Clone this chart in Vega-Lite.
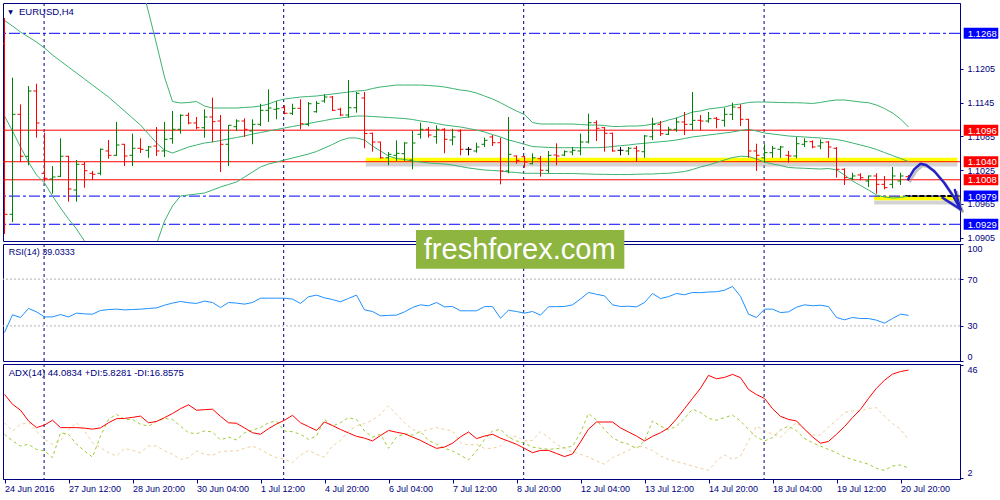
{
"$schema": "https://vega.github.io/schema/vega-lite/v6.json",
"padding": {"left": 2, "top": 2, "right": 0, "bottom": 0},
"background": "#ffffff",
"bounds": "flush",
"spacing": 3,
"config": {
 "view": {"stroke": "#000080", "strokeWidth": 1},
 "axis": {"labelFont": "Liberation Sans", "labelFontSize": 9, "labelColor": "#000080", "domainColor": "#000080", "tickColor": "#000080", "tickSize": 3, "grid": false, "labelPadding": 4}
},
"datasets": {
 "bars": [
{"i":0,"o":1.1250,"h":1.12951,"l":1.09118,"c":1.09467,"bu":1.15383,"bm":1.12907,"bl":1.11212,"rsi":24.3,"adx":34.6,"pdi":19.0,"mdi":23.5},
{"i":1,"o":1.09467,"h":1.11892,"l":1.0933,"c":1.11242,"bu":1.15348,"bm":1.12809,"bl":1.10946,"rsi":39.5,"adx":30.7,"pdi":16.4,"mdi":20.3},
{"i":2,"o":1.11242,"h":1.11419,"l":1.10395,"c":1.10497,"bu":1.15294,"bm":1.12703,"bl":1.10662,"rsi":37.2,"adx":28.4,"pdi":14.4,"mdi":22.9},
{"i":3,"o":1.10497,"h":1.11744,"l":1.10337,"c":1.11656,"bu":1.15241,"bm":1.12614,"bl":1.10395,"rsi":44.9,"adx":24.2,"pdi":15.1,"mdi":23.5},
{"i":4,"o":1.11656,"h":1.11785,"l":1.10827,"c":1.11087,"bu":1.1517,"bm":1.12525,"bl":1.10165,"rsi":42,"adx":21.6,"pdi":13.1,"mdi":20.3},
{"i":5,"o":1.10195,"h":1.10916,"l":1.10046,"c":1.10106,"bu":1.15099,"bm":1.12419,"bl":1.10023,"rsi":37.7,"adx":22.6,"pdi":12.5,"mdi":17},
{"i":6,"o":1.10094,"h":1.10324,"l":1.09833,"c":1.10129,"bu":1.15028,"bm":1.12295,"bl":1.09792,"rsi":37.7,"adx":24.5,"pdi":9.9,"mdi":15.1},
{"i":7,"o":1.10141,"h":1.10816,"l":1.10129,"c":1.10497,"bu":1.14957,"bm":1.12188,"bl":1.09579,"rsi":39.7,"adx":21.6,"pdi":19.6,"mdi":16.4},
{"i":8,"o":1.10497,"h":1.10505,"l":1.09691,"c":1.09917,"bu":1.14886,"bm":1.12082,"bl":1.09384,"rsi":37.7,"adx":21.6,"pdi":19,"mdi":20.9},
{"i":9,"o":1.09899,"h":1.10431,"l":1.09691,"c":1.10354,"bu":1.14815,"bm":1.11975,"bl":1.09206,"rsi":40.9,"adx":21.6,"pdi":15.1,"mdi":23.5},
{"i":10,"o":1.10354,"h":1.10395,"l":1.09939,"c":1.10241,"bu":1.14744,"bm":1.11869,"bl":1.08993,"rsi":40.3,"adx":21.4,"pdi":12.5,"mdi":20.3},
{"i":11,"o":1.10195,"h":1.10236,"l":1.10076,"c":1.10177,"bu":1.14673,"bm":1.11762,"bl":1.0878,"rsi":40,"adx":21,"pdi":10.1,"mdi":15.7},
{"i":12,"o":1.10195,"h":1.10635,"l":1.1016,"c":1.10621,"bu":1.14584,"bm":1.11656,"bl":1.08603,"rsi":43.2,"adx":21.5,"pdi":18.3,"mdi":13.8},
{"i":13,"o":1.10591,"h":1.10786,"l":1.10454,"c":1.10514,"bu":1.1446,"bm":1.11549,"bl":1.0846,"rsi":44,"adx":23.5,"pdi":24.8,"mdi":11.8},
{"i":14,"o":1.10514,"h":1.11106,"l":1.10502,"c":1.10697,"bu":1.14318,"bm":1.11425,"bl":1.08354,"rsi":44.3,"adx":25.1,"pdi":26.8,"mdi":10.5},
{"i":15,"o":1.1071,"h":1.10717,"l":1.10324,"c":1.10502,"bu":1.1414,"bm":1.11301,"bl":1.08319,"rsi":43.7,"adx":25.2,"pdi":24.8,"mdi":13.5},
{"i":16,"o":1.10514,"h":1.10899,"l":1.10324,"c":1.10639,"bu":1.13928,"bm":1.11176,"bl":1.08354,"rsi":44,"adx":25.6,"pdi":24.8,"mdi":12.7},
{"i":17,"o":1.10639,"h":1.10816,"l":1.10555,"c":1.10621,"bu":1.13608,"bm":1.11052,"bl":1.08496,"rsi":44.3,"adx":26.1,"pdi":22.9,"mdi":11.8},
{"i":18,"o":1.10603,"h":1.10679,"l":1.1047,"c":1.10662,"bu":1.13058,"bm":1.10892,"bl":1.08709,"rsi":44.9,"adx":23.5,"pdi":22.2,"mdi":14.4},
{"i":19,"o":1.10679,"h":1.11017,"l":1.10502,"c":1.10591,"bu":1.1249,"bm":1.10733,"bl":1.0894,"rsi":45.4,"adx":24,"pdi":24,"mdi":14.4},
{"i":20,"o":1.10591,"h":1.11106,"l":1.10484,"c":1.10798,"bu":1.11904,"bm":1.10608,"bl":1.09348,"rsi":47.7,"adx":25.5,"pdi":25.2,"mdi":12.5},
{"i":21,"o":1.10809,"h":1.11301,"l":1.1072,"c":1.10976,"bu":1.11469,"bm":1.10555,"bl":1.09614,"rsi":49.5,"adx":27.1,"pdi":24.8,"mdi":11.2},
{"i":22,"o":1.10976,"h":1.11242,"l":1.10899,"c":1.11224,"bu":1.11443,"bm":1.10608,"bl":1.09792,"rsi":50.9,"adx":29,"pdi":22.2,"mdi":9.2},
{"i":23,"o":1.11224,"h":1.11271,"l":1.11064,"c":1.11088,"bu":1.11452,"bm":1.10662,"bl":1.0981,"rsi":49.8,"adx":30.5,"pdi":19.6,"mdi":9.9},
{"i":24,"o":1.11088,"h":1.11194,"l":1.10976,"c":1.11004,"bu":1.11469,"bm":1.10697,"bl":1.09827,"rsi":49.2,"adx":28.4,"pdi":19.2,"mdi":12.5},
{"i":25,"o":1.11004,"h":1.11331,"l":1.10827,"c":1.11194,"bu":1.1139,"bm":1.10733,"bl":1.09845,"rsi":51.2,"adx":28.6,"pdi":20.3,"mdi":11.2},
{"i":26,"o":1.11194,"h":1.11537,"l":1.1075,"c":1.11111,"bu":1.11354,"bm":1.1075,"bl":1.09898,"rsi":50,"adx":28.8,"pdi":19.9,"mdi":10.8},
{"i":27,"o":1.11123,"h":1.1123,"l":1.10218,"c":1.1071,"bu":1.11354,"bm":1.10777,"bl":1.09952,"rsi":45.7,"adx":26,"pdi":16.8,"mdi":12.2},
{"i":28,"o":1.1071,"h":1.11052,"l":1.10324,"c":1.11047,"bu":1.11354,"bm":1.10804,"bl":1.09996,"rsi":50,"adx":23.5,"pdi":17.9,"mdi":12.5},
{"i":29,"o":1.11022,"h":1.11153,"l":1.10946,"c":1.11123,"bu":1.11354,"bm":1.1083,"bl":1.10041,"rsi":49.5,"adx":23.3,"pdi":16.8,"mdi":12.5},
{"i":30,"o":1.11123,"h":1.11171,"l":1.1084,"c":1.10976,"bu":1.11363,"bm":1.10857,"bl":1.10129,"rsi":48.6,"adx":21.5,"pdi":19.6,"mdi":13.5},
{"i":31,"o":1.10946,"h":1.11153,"l":1.1071,"c":1.11064,"bu":1.11372,"bm":1.10892,"bl":1.10218,"rsi":50,"adx":19.6,"pdi":20.7,"mdi":14.4},
{"i":32,"o":1.11064,"h":1.1143,"l":1.11034,"c":1.11313,"bu":1.1139,"bm":1.10919,"bl":1.10307,"rsi":53.7,"adx":19,"pdi":21.6,"mdi":13.1},
{"i":33,"o":1.11313,"h":1.11686,"l":1.11106,"c":1.11354,"bu":1.11425,"bm":1.10946,"bl":1.1036,"rsi":53.7,"adx":21.2,"pdi":23.5,"mdi":11.2},
{"i":34,"o":1.11331,"h":1.11478,"l":1.11153,"c":1.11341,"bu":1.11478,"bm":1.10972,"bl":1.10395,"rsi":53.7,"adx":23,"pdi":24.2,"mdi":9.9},
{"i":35,"o":1.11359,"h":1.11402,"l":1.11242,"c":1.1126,"bu":1.11514,"bm":1.10999,"bl":1.10431,"rsi":53.7,"adx":24.5,"pdi":20.3,"mdi":9.2},
{"i":36,"o":1.1126,"h":1.1143,"l":1.1123,"c":1.11348,"bu":1.11531,"bm":1.11026,"bl":1.10466,"rsi":52.9,"adx":26.4,"pdi":20,"mdi":7.9},
{"i":37,"o":1.11348,"h":1.11508,"l":1.10976,"c":1.11075,"bu":1.11549,"bm":1.11052,"bl":1.10502,"rsi":49.2,"adx":23.5,"pdi":19,"mdi":10.9},
{"i":38,"o":1.11064,"h":1.1146,"l":1.11029,"c":1.1143,"bu":1.11558,"bm":1.11079,"bl":1.10537,"rsi":54.9,"adx":22,"pdi":17,"mdi":12.7},
{"i":39,"o":1.11288,"h":1.11478,"l":1.11271,"c":1.11437,"bu":1.11567,"bm":1.11106,"bl":1.10582,"rsi":56.3,"adx":20.5,"pdi":18.3,"mdi":11.2},
{"i":40,"o":1.11478,"h":1.11597,"l":1.11448,"c":1.11549,"bu":1.11585,"bm":1.11132,"bl":1.10644,"rsi":54,"adx":23.8,"pdi":24.8,"mdi":10.1},
{"i":41,"o":1.11549,"h":1.11567,"l":1.11301,"c":1.11313,"bu":1.11602,"bm":1.11159,"bl":1.10706,"rsi":52.5,"adx":22.4,"pdi":22.2,"mdi":14.4},
{"i":42,"o":1.11331,"h":1.11359,"l":1.11212,"c":1.1123,"bu":1.1162,"bm":1.11176,"bl":1.10777,"rsi":50.6,"adx":20.9,"pdi":23.5,"mdi":16.6},
{"i":43,"o":1.1123,"h":1.11851,"l":1.11182,"c":1.11359,"bu":1.11638,"bm":1.11194,"bl":1.10822,"rsi":53.5,"adx":19.5,"pdi":25.5,"mdi":20.3},
{"i":44,"o":1.11359,"h":1.11638,"l":1.11271,"c":1.11615,"bu":1.11656,"bm":1.11212,"bl":1.10822,"rsi":56.3,"adx":18.2,"pdi":24.8,"mdi":22.2},
{"i":45,"o":1.11531,"h":1.11638,"l":1.10639,"c":1.10901,"bu":1.11664,"bm":1.11212,"bl":1.10786,"rsi":43.7,"adx":17.5,"pdi":20.3,"mdi":23.2},
{"i":46,"o":1.10905,"h":1.10916,"l":1.10578,"c":1.1075,"bu":1.117,"bm":1.11203,"bl":1.10679,"rsi":42.3,"adx":16.4,"pdi":17.9,"mdi":24.5},
{"i":47,"o":1.1075,"h":1.10757,"l":1.10454,"c":1.1047,"bu":1.11727,"bm":1.11194,"bl":1.10591,"rsi":38.6,"adx":18.5,"pdi":19,"mdi":26.8},
{"i":48,"o":1.1047,"h":1.10573,"l":1.10337,"c":1.10532,"bu":1.11744,"bm":1.11185,"bl":1.10502,"rsi":39,"adx":20.5,"pdi":13.5,"mdi":30.1},
{"i":49,"o":1.10514,"h":1.1078,"l":1.10413,"c":1.1055,"bu":1.11762,"bm":1.11176,"bl":1.10457,"rsi":39.2,"adx":19.8,"pdi":17.9,"mdi":26.8},
{"i":50,"o":1.10543,"h":1.10745,"l":1.10413,"c":1.10733,"bu":1.11762,"bm":1.11167,"bl":1.1044,"rsi":42,"adx":19.2,"pdi":19.2,"mdi":23.5},
{"i":51,"o":1.10431,"h":1.10946,"l":1.10266,"c":1.10733,"bu":1.11762,"bm":1.1115,"bl":1.10413,"rsi":45.7,"adx":17.9,"pdi":18.7,"mdi":20.9},
{"i":52,"o":1.10887,"h":1.11093,"l":1.10809,"c":1.10976,"bu":1.11762,"bm":1.11123,"bl":1.10395,"rsi":48,"adx":16.6,"pdi":20,"mdi":19.9},
{"i":53,"o":1.10976,"h":1.11017,"l":1.10827,"c":1.10875,"bu":1.11753,"bm":1.11106,"bl":1.10378,"rsi":47.2,"adx":15,"pdi":16.6,"mdi":20.9},
{"i":54,"o":1.10844,"h":1.11047,"l":1.1072,"c":1.10976,"bu":1.11744,"bm":1.11079,"bl":1.10369,"rsi":50,"adx":13.5,"pdi":15.1,"mdi":21.6},
{"i":55,"o":1.10976,"h":1.10994,"l":1.1055,"c":1.10798,"bu":1.11727,"bm":1.11052,"bl":1.1036,"rsi":46.3,"adx":14,"pdi":13.5,"mdi":20.9},
{"i":56,"o":1.10786,"h":1.10986,"l":1.10692,"c":1.1084,"bu":1.117,"bm":1.11034,"bl":1.10342,"rsi":46.6,"adx":15.5,"pdi":12.5,"mdi":20.3},
{"i":57,"o":1.10946,"h":1.10976,"l":1.10514,"c":1.10621,"bu":1.11673,"bm":1.11017,"bl":1.10316,"rsi":42.9,"adx":18,"pdi":10.8,"mdi":15.7},
{"i":58,"o":1.10621,"h":1.10662,"l":1.10514,"c":1.10621,"bu":1.11656,"bm":1.1099,"bl":1.10289,"rsi":42.9,"adx":19.9,"pdi":9,"mdi":14.8},
{"i":59,"o":1.10591,"h":1.10738,"l":1.10561,"c":1.10662,"bu":1.1162,"bm":1.10963,"bl":1.10271,"rsi":42.9,"adx":17.3,"pdi":12.5,"mdi":15.1},
{"i":60,"o":1.1071,"h":1.10827,"l":1.10662,"c":1.1078,"bu":1.11567,"bm":1.10928,"bl":1.10253,"rsi":46.5,"adx":18.3,"pdi":17,"mdi":13.5},
{"i":61,"o":1.1084,"h":1.10875,"l":1.10679,"c":1.10738,"bu":1.11514,"bm":1.10883,"bl":1.10245,"rsi":46.5,"adx":19,"pdi":20.3,"mdi":13.5},
{"i":62,"o":1.10738,"h":1.10827,"l":1.09999,"c":1.10236,"bu":1.11448,"bm":1.1084,"bl":1.10236,"rsi":36.6,"adx":17.5,"pdi":20.9,"mdi":14.4},
{"i":63,"o":1.10236,"h":1.11194,"l":1.10195,"c":1.10532,"bu":1.11372,"bm":1.10786,"bl":1.10218,"rsi":43.4,"adx":16.3,"pdi":17.9,"mdi":17.7},
{"i":64,"o":1.10502,"h":1.10514,"l":1.10365,"c":1.10425,"bu":1.11301,"bm":1.1075,"bl":1.10209,"rsi":42.3,"adx":15.1,"pdi":16.4,"mdi":18.3},
{"i":65,"o":1.10489,"h":1.10502,"l":1.10294,"c":1.10395,"bu":1.11238,"bm":1.1071,"bl":1.10195,"rsi":40.9,"adx":13.5,"pdi":15.5,"mdi":16.4},
{"i":66,"o":1.10365,"h":1.1055,"l":1.10354,"c":1.1047,"bu":1.11096,"bm":1.1067,"bl":1.10195,"rsi":42.3,"adx":11.8,"pdi":14,"mdi":16.6},
{"i":67,"o":1.10454,"h":1.10502,"l":1.10134,"c":1.10248,"bu":1.1107,"bm":1.10662,"bl":1.10195,"rsi":39.2,"adx":12.7,"pdi":13.5,"mdi":20},
{"i":68,"o":1.10248,"h":1.10591,"l":1.10195,"c":1.10514,"bu":1.1107,"bm":1.10653,"bl":1.10191,"rsi":46.3,"adx":12.7,"pdi":13.1,"mdi":17.7},
{"i":69,"o":1.10519,"h":1.10727,"l":1.10337,"c":1.10502,"bu":1.1107,"bm":1.10649,"bl":1.10191,"rsi":46.5,"adx":11.5,"pdi":13.4,"mdi":15.1},
{"i":70,"o":1.10519,"h":1.10603,"l":1.10502,"c":1.10578,"bu":1.1107,"bm":1.10649,"bl":1.10191,"rsi":46.6,"adx":10.3,"pdi":13.8,"mdi":13.5},
{"i":71,"o":1.10573,"h":1.10662,"l":1.10514,"c":1.10603,"bu":1.1107,"bm":1.10649,"bl":1.10191,"rsi":48,"adx":11.3,"pdi":14.3,"mdi":12.2},
{"i":72,"o":1.10591,"h":1.10899,"l":1.10514,"c":1.1075,"bu":1.11061,"bm":1.10649,"bl":1.10186,"rsi":53,"adx":16,"pdi":19.6,"mdi":11.2},
{"i":73,"o":1.1075,"h":1.11253,"l":1.10727,"c":1.11093,"bu":1.11052,"bm":1.10649,"bl":1.10182,"rsi":58.6,"adx":21,"pdi":27.1,"mdi":10.1},
{"i":74,"o":1.11093,"h":1.11135,"l":1.10768,"c":1.10994,"bu":1.11052,"bm":1.10649,"bl":1.10177,"rsi":57,"adx":23.8,"pdi":24.5,"mdi":8.6},
{"i":75,"o":1.11004,"h":1.11017,"l":1.10578,"c":1.10905,"bu":1.11043,"bm":1.10656,"bl":1.10177,"rsi":55.7,"adx":23.8,"pdi":20.9,"mdi":7.3},
{"i":76,"o":1.10905,"h":1.10916,"l":1.10578,"c":1.10591,"bu":1.11026,"bm":1.1067,"bl":1.10173,"rsi":48,"adx":23.8,"pdi":17.7,"mdi":9.9},
{"i":77,"o":1.10603,"h":1.10662,"l":1.10514,"c":1.10603,"bu":1.11026,"bm":1.10685,"bl":1.10173,"rsi":46.6,"adx":21.5,"pdi":16,"mdi":11.2},
{"i":78,"o":1.10591,"h":1.10662,"l":1.10519,"c":1.10639,"bu":1.11034,"bm":1.10697,"bl":1.10173,"rsi":46.8,"adx":19.9,"pdi":15.1,"mdi":12.7},
{"i":79,"o":1.10639,"h":1.10679,"l":1.10395,"c":1.10591,"bu":1.11034,"bm":1.10715,"bl":1.10177,"rsi":46.3,"adx":18.3,"pdi":13.4,"mdi":14.3},
{"i":80,"o":1.10578,"h":1.10875,"l":1.1047,"c":1.10857,"bu":1.11043,"bm":1.10727,"bl":1.10182,"rsi":50,"adx":16.4,"pdi":16.4,"mdi":14},
{"i":81,"o":1.10844,"h":1.11182,"l":1.10786,"c":1.11064,"bu":1.1107,"bm":1.10742,"bl":1.10182,"rsi":57.7,"adx":18.2,"pdi":24.2,"mdi":12.7},
{"i":82,"o":1.11064,"h":1.11123,"l":1.10857,"c":1.10898,"bu":1.11096,"bm":1.10756,"bl":1.10191,"rsi":53.4,"adx":19.6,"pdi":22.2,"mdi":10.5},
{"i":83,"o":1.10887,"h":1.11022,"l":1.10875,"c":1.10976,"bu":1.11141,"bm":1.10768,"bl":1.10195,"rsi":55,"adx":21.5,"pdi":20.7,"mdi":9.2},
{"i":84,"o":1.10976,"h":1.11182,"l":1.10933,"c":1.11106,"bu":1.11176,"bm":1.10786,"bl":1.10209,"rsi":57.7,"adx":25,"pdi":22.2,"mdi":8.3},
{"i":85,"o":1.11106,"h":1.11283,"l":1.10875,"c":1.11064,"bu":1.1123,"bm":1.10813,"bl":1.10227,"rsi":56.6,"adx":29,"pdi":25.2,"mdi":7.5},
{"i":86,"o":1.11064,"h":1.11638,"l":1.10958,"c":1.11135,"bu":1.11283,"bm":1.1084,"bl":1.10262,"rsi":58.6,"adx":33,"pdi":28.8,"mdi":6.6},
{"i":87,"o":1.11135,"h":1.1123,"l":1.10958,"c":1.11123,"bu":1.11301,"bm":1.10857,"bl":1.10307,"rsi":58.4,"adx":37,"pdi":27.5,"mdi":5.7},
{"i":88,"o":1.11123,"h":1.11283,"l":1.11093,"c":1.11164,"bu":1.11336,"bm":1.10875,"bl":1.10342,"rsi":59,"adx":42,"pdi":25.2,"mdi":4.9},
{"i":89,"o":1.11171,"h":1.11194,"l":1.10994,"c":1.11153,"bu":1.11354,"bm":1.10892,"bl":1.10387,"rsi":59.2,"adx":40.7,"pdi":24.5,"mdi":8.6},
{"i":90,"o":1.11135,"h":1.11359,"l":1.11022,"c":1.11242,"bu":1.11372,"bm":1.1091,"bl":1.10431,"rsi":60.5,"adx":41.2,"pdi":25.5,"mdi":10.9},
{"i":91,"o":1.11242,"h":1.11448,"l":1.11141,"c":1.11372,"bu":1.11407,"bm":1.10928,"bl":1.10475,"rsi":63.7,"adx":42.4,"pdi":26.5,"mdi":9.2},
{"i":92,"o":1.11359,"h":1.11419,"l":1.11034,"c":1.11153,"bu":1.11425,"bm":1.10954,"bl":1.10497,"rsi":55.2,"adx":41.1,"pdi":24.2,"mdi":10.5},
{"i":93,"o":1.11153,"h":1.1116,"l":1.1047,"c":1.10591,"bu":1.11452,"bm":1.10976,"bl":1.10493,"rsi":40,"adx":36.5,"pdi":20.9,"mdi":16.4},
{"i":94,"o":1.10591,"h":1.1072,"l":1.10236,"c":1.10514,"bu":1.11461,"bm":1.10946,"bl":1.10448,"rsi":37.2,"adx":34.5,"pdi":17.9,"mdi":22.2},
{"i":95,"o":1.1047,"h":1.1071,"l":1.10383,"c":1.10561,"bu":1.11461,"bm":1.1091,"bl":1.10395,"rsi":44.3,"adx":33,"pdi":16.4,"mdi":20.5},
{"i":96,"o":1.10561,"h":1.10679,"l":1.1047,"c":1.10639,"bu":1.11455,"bm":1.10892,"bl":1.1036,"rsi":44.3,"adx":29,"pdi":17.7,"mdi":19},
{"i":97,"o":1.10621,"h":1.10679,"l":1.1047,"c":1.10662,"bu":1.11452,"bm":1.10875,"bl":1.10334,"rsi":41.4,"adx":26,"pdi":20.7,"mdi":17.9},
{"i":98,"o":1.10514,"h":1.10591,"l":1.10383,"c":1.10502,"bu":1.11448,"bm":1.10857,"bl":1.10298,"rsi":42,"adx":24.8,"pdi":22.2,"mdi":20.9},
{"i":99,"o":1.10502,"h":1.1084,"l":1.10461,"c":1.1072,"bu":1.11448,"bm":1.10848,"bl":1.10289,"rsi":46,"adx":24.2,"pdi":20.3,"mdi":23.5},
{"i":100,"o":1.1071,"h":1.10816,"l":1.10662,"c":1.10756,"bu":1.11443,"bm":1.1084,"bl":1.10284,"rsi":48,"adx":21,"pdi":17.4,"mdi":20.9},
{"i":101,"o":1.10756,"h":1.1078,"l":1.10639,"c":1.10662,"bu":1.11434,"bm":1.1083,"bl":1.10277,"rsi":47.2,"adx":18,"pdi":15.7,"mdi":18.7},
{"i":102,"o":1.10679,"h":1.10798,"l":1.10621,"c":1.10738,"bu":1.11452,"bm":1.10822,"bl":1.10271,"rsi":47.7,"adx":15.5,"pdi":14.4,"mdi":18.7},
{"i":103,"o":1.1075,"h":1.10768,"l":1.1047,"c":1.10662,"bu":1.11478,"bm":1.10809,"bl":1.1028,"rsi":46.5,"adx":16.2,"pdi":13.1,"mdi":21.9},
{"i":104,"o":1.10639,"h":1.10662,"l":1.10117,"c":1.10266,"bu":1.11496,"bm":1.10795,"bl":1.10255,"rsi":37.2,"adx":19,"pdi":11.8,"mdi":24.5},
{"i":105,"o":1.10266,"h":1.10283,"l":1.09987,"c":1.10117,"bu":1.11496,"bm":1.10768,"bl":1.10165,"rsi":35.2,"adx":22,"pdi":10.1,"mdi":27.5},
{"i":106,"o":1.10106,"h":1.10205,"l":1.10076,"c":1.10147,"bu":1.11478,"bm":1.10733,"bl":1.10058,"rsi":37.2,"adx":25.5,"pdi":9.2,"mdi":28.1},
{"i":107,"o":1.10165,"h":1.10195,"l":1.1007,"c":1.10117,"bu":1.11461,"bm":1.10697,"bl":1.09979,"rsi":36.3,"adx":28.7,"pdi":8.2,"mdi":28.1},
{"i":108,"o":1.10058,"h":1.10156,"l":1.09952,"c":1.10147,"bu":1.11448,"bm":1.10662,"bl":1.09898,"rsi":36.3,"adx":33,"pdi":7.3,"mdi":29.1},
{"i":109,"o":1.10147,"h":1.10195,"l":1.09833,"c":1.09999,"bu":1.11407,"bm":1.10617,"bl":1.0981,"rsi":34.9,"adx":37,"pdi":5.7,"mdi":29.4},
{"i":110,"o":1.09999,"h":1.10147,"l":1.09911,"c":1.0994,"bu":1.11345,"bm":1.10564,"bl":1.09774,"rsi":32.3,"adx":40.1,"pdi":4.9,"mdi":26.1},
{"i":111,"o":1.09999,"h":1.10307,"l":1.09929,"c":1.10147,"bu":1.11265,"bm":1.1051,"bl":1.09757,"rsi":36.3,"adx":42.5,"pdi":6.6,"mdi":23.2},
{"i":112,"o":1.10058,"h":1.10205,"l":1.09987,"c":1.10147,"bu":1.11159,"bm":1.10457,"bl":1.09765,"rsi":40,"adx":43.5,"pdi":7,"mdi":20.9},
{"i":113,"o":1.10134,"h":1.10165,"l":1.10058,"c":1.10085,"bu":1.11017,"bm":1.10404,"bl":1.09792,"rsi":39.0333,"adx":44.0834,"pdi":5.8281,"mdi":16.8575}
 ],
 "seps": [{"i":4.95},{"i":34.9},{"i":64.9},{"i":94.95}],
 "levels": [{"p":1.1268,"k":"blue"},{"p":1.0979,"k":"blue"},{"p":1.0929,"k":"blue"},{"p":1.1096,"k":"red"},{"p":1.1040,"k":"red"},{"p":1.1008,"k":"red"}],
 "bands": [{"from":45.16,"to":119.1,"p":1.10431},{"from":108.7,"to":119.43,"p":1.09756}],
 "dash": [{"from":112.6,"to":119.43,"p":1.0979}],
 "arrow": [
  {"seg":"curve","k":0,"i":112.95,"p":1.10088},{"seg":"curve","k":1,"i":113.7,"p":1.10265},{"seg":"curve","k":2,"i":114.5,"p":1.10365},{"seg":"curve","k":3,"i":115.2,"p":1.10342},{"seg":"curve","k":4,"i":116.2,"p":1.10236},{"seg":"curve","k":5,"i":117.45,"p":1.10028},{"seg":"curve","k":6,"i":118.7,"p":1.09762},{"seg":"curve","k":7,"i":119.5,"p":1.09556},
  {"seg":"arm1","k":0,"i":118.8,"p":1.09898},{"seg":"arm1","k":1,"i":119.5,"p":1.09556},
  {"seg":"arm2","k":0,"i":117.25,"p":1.09762},{"seg":"arm2","k":1,"i":119.5,"p":1.09556}
 ],
 "rsiLevels": [{"v":70},{"v":30}],
 "one": [{"n":1}]
},
"vconcat": [
 {
  "width": 957, "height": 238,
  "resolve": {"axis": {"x": "independent", "y": "independent"}},
  "layer": [
   {"data": {"name": "seps"}, "mark": {"type": "rule", "color": "#000080", "strokeDash": [3,3], "strokeWidth": 1},
    "encoding": {"x": {"field": "i", "type": "quantitative", "scale": {"domain": [-0.1875, 119.4375], "nice": false, "zero": false}, "axis": null}}},
   {"data": {"name": "bands"}, "mark": {"type": "rule", "color": "#a8a8a8", "opacity": 0.5, "strokeWidth": 4, "yOffset": 4.5, "strokeCap": "butt"},
    "encoding": {"x": {"field": "from", "type": "quantitative", "axis": null}, "x2": {"field": "to"},
     "y": {"field": "p", "type": "quantitative", "scale": {"domain": [1.08993, 1.13218], "nice": false, "zero": false},
      "axis": {"orient": "right", "title": null, "values": [1.0905, 1.0965, 1.1025, 1.1085, 1.1145, 1.1205], "format": ".4f", "labelFontSize": 9}}}},
   {"data": {"name": "bands"}, "mark": {"type": "rule", "color": "#ffff00", "strokeWidth": 4.6, "strokeCap": "butt"},
    "encoding": {"x": {"field": "from", "type": "quantitative", "axis": null}, "x2": {"field": "to"}, "y": {"field": "p", "type": "quantitative", "axis": null}}},
   {"data": {"name": "levels"}, "transform": [{"filter": "datum.k == 'blue'"}], "mark": {"type": "rule", "color": "#0000ff", "strokeWidth": 1, "strokeDash": [11,3,3,3]},
    "encoding": {"y": {"field": "p", "type": "quantitative", "axis": null}}},
   {"data": {"name": "levels"}, "transform": [{"filter": "datum.k == 'red'"}], "mark": {"type": "rule", "color": "#ff0000", "strokeWidth": 1},
    "encoding": {"y": {"field": "p", "type": "quantitative", "axis": null}}},
   {"data": {"name": "dash"}, "mark": {"type": "rule", "color": "#000000", "strokeWidth": 2, "strokeDash": [5,2]},
    "encoding": {"x": {"field": "from", "type": "quantitative", "axis": null}, "x2": {"field": "to"}, "y": {"field": "p", "type": "quantitative", "axis": null}}},
   {"data": {"name": "bars"}, "mark": {"type": "line", "color": "#3cb371", "strokeWidth": 1, "clip": true},
    "encoding": {"x": {"field": "i", "type": "quantitative", "axis": null}, "y": {"field": "bu", "type": "quantitative", "axis": null}}},
   {"data": {"name": "bars"}, "mark": {"type": "line", "color": "#3cb371", "strokeWidth": 1, "clip": true},
    "encoding": {"x": {"field": "i", "type": "quantitative", "axis": null}, "y": {"field": "bm", "type": "quantitative", "axis": null}}},
   {"data": {"name": "bars"}, "mark": {"type": "line", "color": "#3cb371", "strokeWidth": 1, "clip": true},
    "encoding": {"x": {"field": "i", "type": "quantitative", "axis": null}, "y": {"field": "bl", "type": "quantitative", "axis": null}}},
   {"data": {"name": "bars"}, "mark": {"type": "rule", "strokeWidth": 1, "clip": true},
    "encoding": {"x": {"field": "i", "type": "quantitative", "axis": null}, "y": {"field": "h", "type": "quantitative", "axis": null}, "y2": {"field": "l"},
     "color": {"condition": [{"test": "datum.c > datum.o", "value": "#008000"}, {"test": "datum.c < datum.o", "value": "#ff0000"}], "value": "#000000"}}},
   {"data": {"name": "bars"}, "mark": {"type": "rule", "strokeWidth": 1, "clip": true, "xOffset": -3, "x2Offset": 0},
    "encoding": {"x": {"field": "i", "type": "quantitative", "axis": null}, "x2": {"field": "i"}, "y": {"field": "o", "type": "quantitative", "axis": null},
     "color": {"condition": [{"test": "datum.c > datum.o", "value": "#008000"}, {"test": "datum.c < datum.o", "value": "#ff0000"}], "value": "#000000"}}},
   {"data": {"name": "bars"}, "mark": {"type": "rule", "strokeWidth": 1, "clip": true, "xOffset": 0, "x2Offset": 3},
    "encoding": {"x": {"field": "i", "type": "quantitative", "axis": null}, "x2": {"field": "i"}, "y": {"field": "c", "type": "quantitative", "axis": null},
     "color": {"condition": [{"test": "datum.c > datum.o", "value": "#008000"}, {"test": "datum.c < datum.o", "value": "#ff0000"}], "value": "#000000"}}},
   {"data": {"name": "arrow"}, "mark": {"type": "line", "color": "#9a9a9a", "opacity": 0.6, "strokeWidth": 2.5, "xOffset": 2, "yOffset": 2, "strokeCap": "round"},
    "encoding": {"x": {"field": "i", "type": "quantitative", "axis": null}, "y": {"field": "p", "type": "quantitative", "axis": null}, "detail": {"field": "seg"}, "order": {"field": "k"}}},
   {"data": {"name": "arrow"}, "mark": {"type": "line", "color": "#2323c8", "strokeWidth": 2.5, "strokeCap": "round", "strokeJoin": "round"},
    "encoding": {"x": {"field": "i", "type": "quantitative", "axis": null}, "y": {"field": "p", "type": "quantitative", "axis": null}, "detail": {"field": "seg"}, "order": {"field": "k"}}},
   {"data": {"name": "levels"}, "mark": {"type": "rule", "strokeWidth": 11, "strokeCap": "butt"},
    "encoding": {"x": {"datum": 119.9, "axis": null}, "x2": {"datum": 124.22}, "y": {"field": "p", "type": "quantitative", "axis": null},
     "color": {"condition": {"test": "datum.k == 'blue'", "value": "#0000ff"}, "value": "#ff0000"}}},
   {"data": {"name": "levels"}, "mark": {"type": "text", "align": "left", "baseline": "middle", "font": "Liberation Sans", "fontSize": 9.5, "color": "#ffffff", "dy": 0.5},
    "encoding": {"x": {"datum": 120.4, "axis": null}, "y": {"field": "p", "type": "quantitative", "axis": null}, "text": {"field": "p", "type": "quantitative", "format": ".4f"}}},
   {"data": {"name": "one"}, "mark": {"type": "text", "text": "▼", "font": "DejaVu Sans", "fontSize": 6, "color": "#000080", "align": "center", "baseline": "middle"},
    "encoding": {"x": {"datum": 0.75, "axis": null}, "y": {"datum": 1.13067, "axis": null}}},
   {"data": {"name": "one"}, "mark": {"type": "text", "text": "EURUSD,H4", "font": "Liberation Sans", "fontSize": 9.5, "color": "#000080", "align": "left", "baseline": "middle"},
    "encoding": {"x": {"datum": 1.81, "axis": null}, "y": {"datum": 1.13058, "axis": null}}}
  ]
 },
 {
  "width": 957, "height": 117,
  "resolve": {"axis": {"x": "independent", "y": "independent"}},
  "layer": [
   {"data": {"name": "seps"}, "mark": {"type": "rule", "color": "#000080", "strokeDash": [3,3], "strokeWidth": 1},
    "encoding": {"x": {"field": "i", "type": "quantitative", "scale": {"domain": [-0.1875, 119.4375], "nice": false, "zero": false}, "axis": null}}},
   {"data": {"name": "rsiLevels"}, "mark": {"type": "rule", "color": "#b0b0b0", "strokeDash": [2,2], "strokeWidth": 1},
    "encoding": {"y": {"field": "v", "type": "quantitative", "scale": {"domain": [0, 100], "nice": false, "zero": false},
     "axis": {"orient": "right", "title": null, "values": [0, 30, 70, 100], "format": "d", "labelFlush": 6}}}},
   {"data": {"name": "bars"}, "mark": {"type": "line", "color": "#1e90ff", "strokeWidth": 1},
    "encoding": {"x": {"field": "i", "type": "quantitative", "axis": null}, "y": {"field": "rsi", "type": "quantitative", "axis": null}}},
   {"data": {"name": "one"}, "mark": {"type": "text", "text": "RSI(14) 39.0333", "font": "Liberation Sans", "fontSize": 9, "color": "#000080", "align": "left", "baseline": "middle"},
    "encoding": {"x": {"datum": 0.525, "axis": null}, "y": {"datum": 93.2, "axis": null}}},
   {"data": {"name": "one"}, "mark": {"type": "rule", "color": "#8db540", "strokeWidth": 38.7, "strokeCap": "butt"},
    "encoding": {"x": {"datum": 51.44, "axis": null}, "x2": {"datum": 77.48}, "y": {"datum": 95.43, "axis": null}}},
   {"data": {"name": "one"}, "mark": {"type": "text", "text": "freshforex.com", "font": "Liberation Sans", "fontSize": 29, "color": "#ffffff", "align": "center", "baseline": "alphabetic"},
    "encoding": {"x": {"datum": 64.4, "axis": null}, "y": {"datum": 86.92, "axis": null}}}
  ]
 },
 {
  "width": 957, "height": 115,
  "resolve": {"axis": {"x": "independent", "y": "independent"}},
  "layer": [
   {"data": {"name": "seps"}, "mark": {"type": "rule", "color": "#000080", "strokeDash": [3,3], "strokeWidth": 1},
    "encoding": {"x": {"field": "i", "type": "quantitative", "scale": {"domain": [-0.1875, 119.4375], "nice": false, "zero": false},
     "axis": {"orient": "bottom", "title": null, "values": [0,8,16,24,32,40,48,56,64,72,80,88,96,104,112],
      "labelExpr": "['24 Jun 2016','27 Jun 12:00','28 Jun 20:00','30 Jun 04:00','1 Jul 12:00','4 Jul 20:00','6 Jul 04:00','7 Jul 12:00','8 Jul 20:00','12 Jul 04:00','13 Jul 12:00','14 Jul 20:00','18 Jul 04:00','19 Jul 12:00','20 Jul 20:00'][round(datum.value/8)]",
      "labelAlign": "left", "labelPadding": 1, "tickSize": 4, "labelFlush": false, "labelOverlap": false, "labelBound": false}}}},
   {"data": {"name": "bars"}, "mark": {"type": "line", "color": "#f0cf9c", "strokeWidth": 1, "strokeDash": [3,3]},
    "encoding": {"x": {"field": "i", "type": "quantitative", "axis": null},
     "y": {"field": "mdi", "type": "quantitative", "scale": {"domain": [1.53, 46.45], "nice": false, "zero": false},
      "axis": {"orient": "right", "title": null, "values": [2, 46], "format": "d", "labelFlush": 8}}}},
   {"data": {"name": "bars"}, "mark": {"type": "line", "color": "#9acd32", "strokeWidth": 1, "strokeDash": [3,3]},
    "encoding": {"x": {"field": "i", "type": "quantitative", "axis": null}, "y": {"field": "pdi", "type": "quantitative", "axis": null}}},
   {"data": {"name": "bars"}, "mark": {"type": "line", "color": "#ff0000", "strokeWidth": 1},
    "encoding": {"x": {"field": "i", "type": "quantitative", "axis": null}, "y": {"field": "adx", "type": "quantitative", "axis": null}}},
   {"data": {"name": "one"}, "mark": {"type": "text", "text": "ADX(14) 44.0834 +DI:5.8281 -DI:16.8575", "font": "Liberation Sans", "fontSize": 9.5, "color": "#000080", "align": "left", "baseline": "middle"},
    "encoding": {"x": {"datum": 0.525, "axis": null}, "y": {"datum": 42.9, "axis": null}}}
  ]
 }
]
}
